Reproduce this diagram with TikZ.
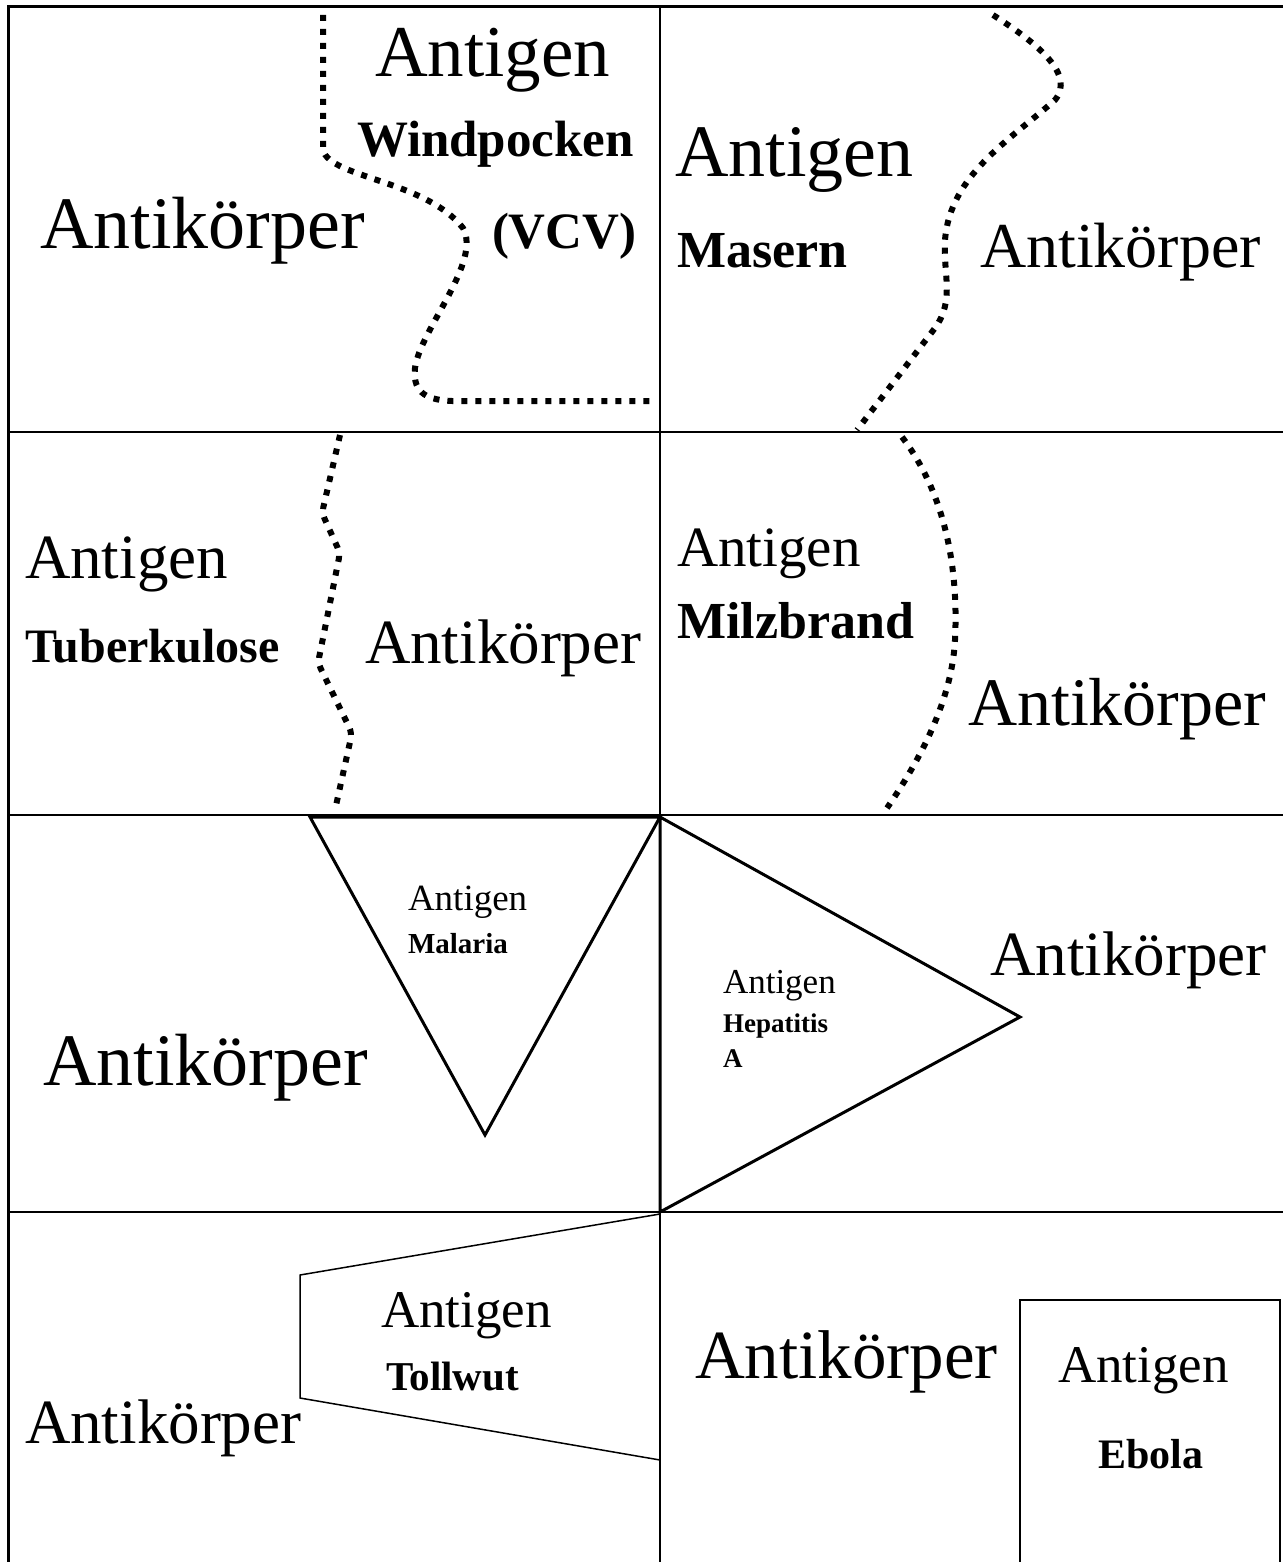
\documentclass[tikz,border=0pt]{standalone}
\usepackage{fontspec}
\setmainfont{Liberation Serif}
\begin{document}
\begin{tikzpicture}[x=1pt,y=-1pt,
  grid/.style={line width=2pt},
  dotline/.style={line width=6pt, dash pattern=on 6pt off 8pt},
  shapeline/.style={line width=3pt, line join=miter},
  thinshape/.style={line width=1.5pt},
  lbl/.style={anchor=base west, inner sep=0pt, outer sep=0pt},
]
\useasboundingbox (0,0) rectangle (1283,1562);
% grid
\draw[line width=3pt] (8,1562) -- (8,7) -- (1283,7);
\draw[line width=1.5pt] (660,7) -- (660,1562);
\draw[grid] (8,432) -- (1283,432);
\draw[grid] (8,815) -- (1283,815);
\draw[grid] (8,1212) -- (1283,1212);

% dotted curves
\draw[dotline] (323,15) -- (323,150) .. controls (330,178) and (425,180) .. (463,228)
  .. controls (482,262) and (420,330) .. (415,368) .. controls (412,395) and (430,400) .. (452,401) -- (655,401);
\draw[dotline] (993,15) .. controls (1040,45) and (1075,75) .. (1055,100)
  .. controls (1010,140) and (950,175) .. (945,240) .. controls (943,275) and (955,300) .. (935,328) -- (857,430);
\draw[dotline, rounded corners=6pt] (340,435) -- (322,513) -- (340,553) -- (318,663) -- (352,733) -- (335,810);
\draw[dotline] (902,437) .. controls (950,500) and (958,580) .. (955,640) .. controls (952,700) and (920,760) .. (887,808);

% shapes
\draw[shapeline] (310,817) -- (660,817) -- (485,1135) -- cycle;
\draw[shapeline] (660,817) -- (1020,1017) -- (660,1212) -- cycle;
\draw[thinshape] (660,1214) -- (300,1275) -- (300,1398) -- (660,1460);
\draw[thinshape] (1020,1562) -- (1020,1300) -- (1280,1300) -- (1280,1562);

% row 1
\node[lbl, font=\fontsize{74}{80}\selectfont] (t1) at (40,248) {Antikörper};
\node[lbl, font=\fontsize{73}{80}\selectfont] (t2) at (375,77) {Antigen};
\node[lbl, font=\fontsize{51}{60}\selectfont\bfseries] (t3) at (357,157) {Windpocken};
\node[lbl, font=\fontsize{51}{60}\selectfont\bfseries] (t4) at (492,248) {(VCV)};
\node[lbl, font=\fontsize{74}{80}\selectfont] (t5) at (675,177) {Antigen};
\node[lbl, font=\fontsize{52}{60}\selectfont\bfseries] (t6) at (677,267) {Masern};
\node[lbl, font=\fontsize{64}{70}\selectfont] (t7) at (980,267) {Antikörper};
% row 2
\node[lbl, font=\fontsize{63}{70}\selectfont] (t8) at (25,578) {Antigen};
\node[lbl, font=\fontsize{48}{55}\selectfont\bfseries] (t9) at (25,662) {Tuberkulose};
\node[lbl, font=\fontsize{63}{70}\selectfont] (t10) at (365,663) {Antikörper};
\node[lbl, font=\fontsize{57}{65}\selectfont] (t11) at (677,566) {Antigen};
\node[lbl, font=\fontsize{52}{60}\selectfont\bfseries] (t12) at (677,638) {Milzbrand};
\node[lbl, font=\fontsize{68}{75}\selectfont] (t13) at (968,725) {Antikörper};
% row 3
\node[lbl, font=\fontsize{37}{42}\selectfont] (t14) at (408,910) {Antigen};
\node[lbl, font=\fontsize{29}{34}\selectfont\bfseries] (t15) at (408,953) {Malaria};
\node[lbl, font=\fontsize{35}{40}\selectfont] (t16) at (723,993) {Antigen};
\node[lbl, font=\fontsize{27}{32}\selectfont\bfseries] (t17) at (723,1032) {Hepatitis};
\node[lbl, font=\fontsize{27}{32}\selectfont\bfseries] (t18) at (723,1067) {A};
\node[lbl, font=\fontsize{74}{80}\selectfont] (t19) at (43,1085) {Antikörper};
\node[lbl, font=\fontsize{63}{70}\selectfont] (t20) at (990,975) {Antikörper};
% row 4
\node[lbl, font=\fontsize{53}{60}\selectfont] (t21) at (381,1327) {Antigen};
\node[lbl, font=\fontsize{41}{48}\selectfont\bfseries] (t22) at (386,1390) {Tollwut};
\node[lbl, font=\fontsize{63}{70}\selectfont] (t23) at (25,1443) {Antikörper};
\node[lbl, font=\fontsize{69}{75}\selectfont] (t24) at (695,1378) {Antikörper};
\node[lbl, font=\fontsize{53}{60}\selectfont] (t25) at (1058,1382) {Antigen};
\node[lbl, font=\fontsize{42}{48}\selectfont\bfseries] (t26) at (1098,1468) {Ebola};
\end{tikzpicture}
\end{document}
